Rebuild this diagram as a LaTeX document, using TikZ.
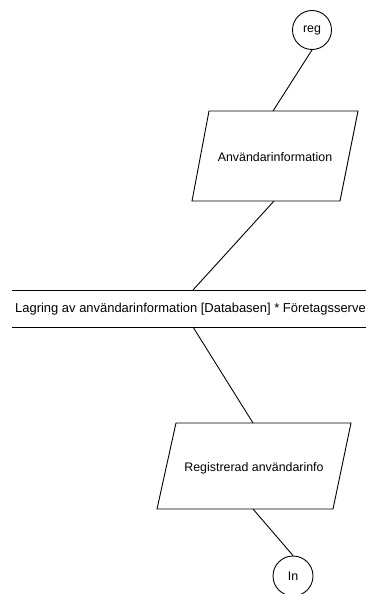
\documentclass[tikz,border=0pt]{standalone}
\usepackage{fontspec}
\setmainfont{Liberation Sans}
\begin{document}
\begin{tikzpicture}[x=1pt,y=-1pt,
  lbl/.style={font=\fontsize{12.4}{14}\selectfont, inner sep=0pt},
  term/.style={circle, draw, line width=0.9pt, minimum size=39pt, inner sep=0pt, font=\fontsize{12.4}{14}\selectfont},
  edge/.style={line width=0.9pt},
  box/.style={line width=0.9pt}]
\useasboundingbox (0,0) rectangle (366,594);
\clip (0,0) rectangle (366,594);
% start terminal
\node[term] (reg) at (312,30) {reg};
% parallelogram 1
\coordinate (p1tl) at (209,111);
\coordinate (p1tr) at (358,111);
\coordinate (p1br) at (340,201);
\coordinate (p1bl) at (192,201);
\draw[box] (p1tl) -- (p1tr) -- (p1br) -- (p1bl) -- cycle;
\node[lbl] (info) at (275,157) {Användarinformation};
\coordinate (p1in) at (273,111);
\coordinate (p1out) at (274,201);
% data store
\coordinate (dtl) at (12,290);
\coordinate (dtr) at (370,290);
\coordinate (dbl) at (12,327);
\coordinate (dbr) at (370,327);
\draw[box] (dtl) -- (dtr);
\draw[box] (dbl) -- (dbr);
\node[lbl, font=\fontsize{12.95}{14}\selectfont, anchor=west] (store) at (15,309) {Lagring av användarinformation [Databasen] * Företagsserver};
\coordinate (din) at (193,290);
\coordinate (dout) at (193,327);
% parallelogram 2
\coordinate (p2tl) at (176,423);
\coordinate (p2tr) at (351,423);
\coordinate (p2br) at (333,509);
\coordinate (p2bl) at (157,509);
\draw[box] (p2tl) -- (p2tr) -- (p2br) -- (p2bl) -- cycle;
\node[lbl] (reginfo) at (254,468) {Registrerad användarinfo};
\coordinate (p2in) at (253,423);
\coordinate (p2out) at (253,509);
% end terminal
\node[term, minimum size=40pt] (in) at (293,576) {In};
% connectors
\draw[edge] (reg.south) -- (p1in);
\draw[edge] (p1out) -- (din);
\draw[edge] (dout) -- (p2in);
\draw[edge] (p2out) -- (in.north);
\end{tikzpicture}
\end{document}
